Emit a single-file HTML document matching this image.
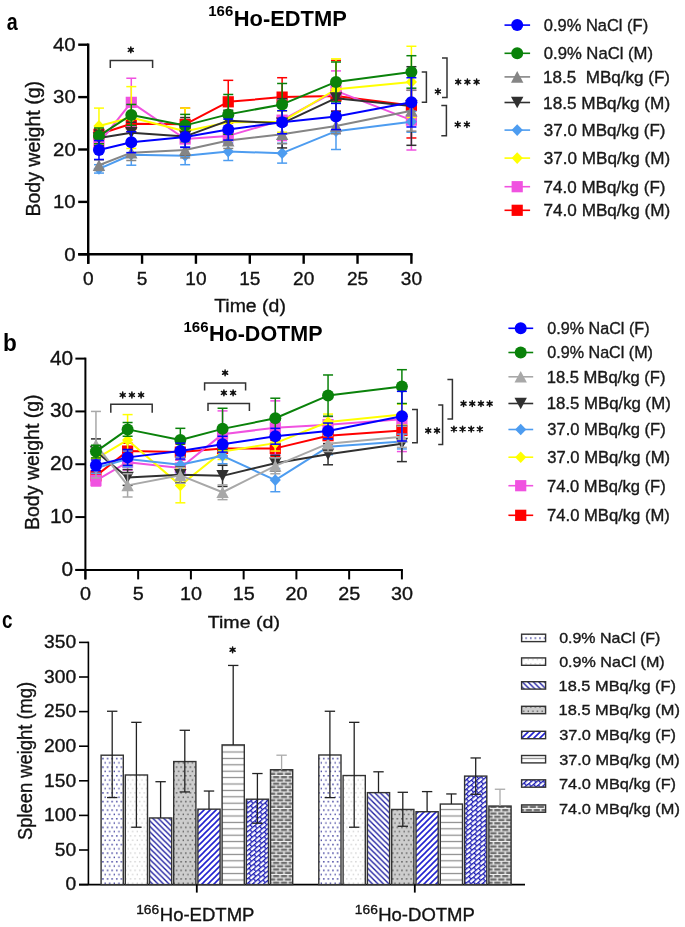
<!DOCTYPE html>
<html><head><meta charset="utf-8"><title>Body and spleen weight</title>
<style>html,body{margin:0;padding:0;background:#fff;}svg{display:block;will-change:transform;}text{font-family:"Liberation Sans", sans-serif;}text:not([font-weight]){stroke:#151515;stroke-width:0.35px;}</style>
</head><body>
<svg width="685" height="927" viewBox="0 0 685 927">
<rect width="685" height="927" fill="#fff"/>
<text transform="translate(7.3,29.5) scale(0.8091,1)" x="-0.73" y="0" font-size="24.372" fill="#000" font-weight="bold">a</text>
<text transform="translate(209.2,16.3) scale(0.9849,1)" x="-0.95" y="0" font-size="15.197" fill="#000" font-weight="bold">166</text>
<text transform="translate(235.2,25.5) scale(0.9839,1)" x="-1.5" y="0" font-size="22.255" fill="#000" font-weight="bold">Ho-EDTMP</text>
<line x1="88.2" y1="43.5" x2="88.2" y2="263.8" stroke="#000" stroke-width="2.4" />
<line x1="78.2" y1="254.3" x2="412.6" y2="254.3" stroke="#000" stroke-width="2.4" />
<line x1="78.2" y1="254.3" x2="88.2" y2="254.3" stroke="#000" stroke-width="2.4" />
<line x1="78.2" y1="201.9" x2="88.2" y2="201.9" stroke="#000" stroke-width="2.4" />
<line x1="78.2" y1="149.5" x2="88.2" y2="149.5" stroke="#000" stroke-width="2.4" />
<line x1="78.2" y1="97.1" x2="88.2" y2="97.1" stroke="#000" stroke-width="2.4" />
<line x1="78.2" y1="44.7" x2="88.2" y2="44.7" stroke="#000" stroke-width="2.4" />
<line x1="88.2" y1="254.3" x2="88.2" y2="263.8" stroke="#000" stroke-width="2.4" />
<line x1="142.07" y1="254.3" x2="142.07" y2="263.8" stroke="#000" stroke-width="2.4" />
<line x1="195.93" y1="254.3" x2="195.93" y2="263.8" stroke="#000" stroke-width="2.4" />
<line x1="249.8" y1="254.3" x2="249.8" y2="263.8" stroke="#000" stroke-width="2.4" />
<line x1="303.67" y1="254.3" x2="303.67" y2="263.8" stroke="#000" stroke-width="2.4" />
<line x1="357.53" y1="254.3" x2="357.53" y2="263.8" stroke="#000" stroke-width="2.4" />
<line x1="411.4" y1="254.3" x2="411.4" y2="263.8" stroke="#000" stroke-width="2.4" />
<text transform="translate(65.17,260.5) scale(1.0855,1)" x="-0.75" y="0" font-size="18.781" fill="#111">0</text>
<text transform="translate(54.56,208.1) scale(1.0855,1)" x="-1.41" y="0" font-size="18.781" fill="#111">10</text>
<text transform="translate(54.05,155.7) scale(1.0855,1)" x="-0.94" y="0" font-size="18.781" fill="#111">20</text>
<text transform="translate(53.8,103.3) scale(1.0855,1)" x="-0.7" y="0" font-size="18.781" fill="#111">30</text>
<text transform="translate(53.49,50.9) scale(1.0855,1)" x="-0.42" y="0" font-size="18.781" fill="#111">40</text>
<text transform="translate(83.65,284.8) scale(1.0256,1)" x="-0.74" y="0" font-size="18.618" fill="#111">0</text>
<text transform="translate(137.52,284.8) scale(1.0256,1)" x="-0.74" y="0" font-size="18.618" fill="#111">5</text>
<text transform="translate(186.75,284.8) scale(1.0256,1)" x="-1.4" y="0" font-size="18.618" fill="#111">10</text>
<text transform="translate(240.61,284.8) scale(1.0256,1)" x="-1.4" y="0" font-size="18.618" fill="#111">15</text>
<text transform="translate(294,284.8) scale(1.0256,1)" x="-0.93" y="0" font-size="18.618" fill="#111">20</text>
<text transform="translate(347.87,284.8) scale(1.0256,1)" x="-0.93" y="0" font-size="18.618" fill="#111">25</text>
<text transform="translate(401.5,284.8) scale(1.0256,1)" x="-0.7" y="0" font-size="18.618" fill="#111">30</text>
<text transform="translate(40.1,215) rotate(-90) scale(0.9598,1)" x="-1.68" y="0" font-size="20.364" fill="#111">Body weight (g)</text>
<text transform="translate(214.6,312.3) scale(1.0370,1)" x="-0.42" y="0" font-size="18.764" fill="#111">Time (d)</text>
<line x1="98.97" y1="129.06" x2="98.97" y2="139.54" stroke="#ff0000" stroke-width="1.5" />
<line x1="93.97" y1="129.06" x2="103.97" y2="129.06" stroke="#ff0000" stroke-width="1.5" />
<line x1="93.97" y1="139.54" x2="103.97" y2="139.54" stroke="#ff0000" stroke-width="1.5" />
<line x1="131.29" y1="115.96" x2="131.29" y2="131.68" stroke="#ff0000" stroke-width="1.5" />
<line x1="126.29" y1="115.96" x2="136.29" y2="115.96" stroke="#ff0000" stroke-width="1.5" />
<line x1="126.29" y1="131.68" x2="136.29" y2="131.68" stroke="#ff0000" stroke-width="1.5" />
<line x1="185.16" y1="108.1" x2="185.16" y2="140.59" stroke="#ff0000" stroke-width="1.5" />
<line x1="180.16" y1="108.1" x2="190.16" y2="108.1" stroke="#ff0000" stroke-width="1.5" />
<line x1="180.16" y1="140.59" x2="190.16" y2="140.59" stroke="#ff0000" stroke-width="1.5" />
<line x1="228.25" y1="80.33" x2="228.25" y2="123.3" stroke="#ff0000" stroke-width="1.5" />
<line x1="223.25" y1="80.33" x2="233.25" y2="80.33" stroke="#ff0000" stroke-width="1.5" />
<line x1="223.25" y1="123.3" x2="233.25" y2="123.3" stroke="#ff0000" stroke-width="1.5" />
<line x1="282.12" y1="77.71" x2="282.12" y2="116.49" stroke="#ff0000" stroke-width="1.5" />
<line x1="277.12" y1="77.71" x2="287.12" y2="77.71" stroke="#ff0000" stroke-width="1.5" />
<line x1="277.12" y1="116.49" x2="287.12" y2="116.49" stroke="#ff0000" stroke-width="1.5" />
<line x1="335.99" y1="60.42" x2="335.99" y2="131.68" stroke="#ff0000" stroke-width="1.5" />
<line x1="330.99" y1="60.42" x2="340.99" y2="60.42" stroke="#ff0000" stroke-width="1.5" />
<line x1="330.99" y1="131.68" x2="340.99" y2="131.68" stroke="#ff0000" stroke-width="1.5" />
<line x1="411.4" y1="73" x2="411.4" y2="137.97" stroke="#ff0000" stroke-width="1.5" />
<line x1="406.4" y1="73" x2="416.4" y2="73" stroke="#ff0000" stroke-width="1.5" />
<line x1="406.4" y1="137.97" x2="416.4" y2="137.97" stroke="#ff0000" stroke-width="1.5" />
<polyline points="98.97,134.3 131.29,123.82 185.16,124.35 228.25,101.82 282.12,97.1 335.99,96.05 411.4,105.48" fill="none" stroke="#ff0000" stroke-width="2" stroke-linejoin="round"/>
<rect x="93.37" y="128.7" width="11.2" height="11.2" fill="#ff0000"/>
<rect x="125.69" y="118.22" width="11.2" height="11.2" fill="#ff0000"/>
<rect x="179.56" y="118.75" width="11.2" height="11.2" fill="#ff0000"/>
<rect x="222.65" y="96.22" width="11.2" height="11.2" fill="#ff0000"/>
<rect x="276.52" y="91.5" width="11.2" height="11.2" fill="#ff0000"/>
<rect x="330.39" y="90.45" width="11.2" height="11.2" fill="#ff0000"/>
<rect x="405.8" y="99.88" width="11.2" height="11.2" fill="#ff0000"/>
<line x1="98.97" y1="137.97" x2="98.97" y2="148.45" stroke="#f052e0" stroke-width="1.5" />
<line x1="93.97" y1="137.97" x2="103.97" y2="137.97" stroke="#f052e0" stroke-width="1.5" />
<line x1="93.97" y1="148.45" x2="103.97" y2="148.45" stroke="#f052e0" stroke-width="1.5" />
<line x1="131.29" y1="78.24" x2="131.29" y2="126.44" stroke="#f052e0" stroke-width="1.5" />
<line x1="126.29" y1="78.24" x2="136.29" y2="78.24" stroke="#f052e0" stroke-width="1.5" />
<line x1="126.29" y1="126.44" x2="136.29" y2="126.44" stroke="#f052e0" stroke-width="1.5" />
<line x1="185.16" y1="131.16" x2="185.16" y2="146.88" stroke="#f052e0" stroke-width="1.5" />
<line x1="180.16" y1="131.16" x2="190.16" y2="131.16" stroke="#f052e0" stroke-width="1.5" />
<line x1="180.16" y1="146.88" x2="190.16" y2="146.88" stroke="#f052e0" stroke-width="1.5" />
<line x1="228.25" y1="128.02" x2="228.25" y2="143.74" stroke="#f052e0" stroke-width="1.5" />
<line x1="223.25" y1="128.02" x2="233.25" y2="128.02" stroke="#f052e0" stroke-width="1.5" />
<line x1="223.25" y1="143.74" x2="233.25" y2="143.74" stroke="#f052e0" stroke-width="1.5" />
<line x1="282.12" y1="99.72" x2="282.12" y2="140.59" stroke="#f052e0" stroke-width="1.5" />
<line x1="277.12" y1="99.72" x2="287.12" y2="99.72" stroke="#f052e0" stroke-width="1.5" />
<line x1="277.12" y1="140.59" x2="287.12" y2="140.59" stroke="#f052e0" stroke-width="1.5" />
<line x1="335.99" y1="70.9" x2="335.99" y2="110.72" stroke="#f052e0" stroke-width="1.5" />
<line x1="330.99" y1="70.9" x2="340.99" y2="70.9" stroke="#f052e0" stroke-width="1.5" />
<line x1="330.99" y1="110.72" x2="340.99" y2="110.72" stroke="#f052e0" stroke-width="1.5" />
<line x1="411.4" y1="90.29" x2="411.4" y2="150.02" stroke="#f052e0" stroke-width="1.5" />
<line x1="406.4" y1="90.29" x2="416.4" y2="90.29" stroke="#f052e0" stroke-width="1.5" />
<line x1="406.4" y1="150.02" x2="416.4" y2="150.02" stroke="#f052e0" stroke-width="1.5" />
<polyline points="98.97,143.21 131.29,102.34 185.16,139.02 228.25,135.88 282.12,120.16 335.99,90.81 411.4,120.16" fill="none" stroke="#f052e0" stroke-width="2" stroke-linejoin="round"/>
<rect x="93.37" y="137.61" width="11.2" height="11.2" fill="#f052e0"/>
<rect x="125.69" y="96.74" width="11.2" height="11.2" fill="#f052e0"/>
<rect x="179.56" y="133.42" width="11.2" height="11.2" fill="#f052e0"/>
<rect x="222.65" y="130.28" width="11.2" height="11.2" fill="#f052e0"/>
<rect x="276.52" y="114.56" width="11.2" height="11.2" fill="#f052e0"/>
<rect x="330.39" y="85.21" width="11.2" height="11.2" fill="#f052e0"/>
<rect x="405.8" y="114.56" width="11.2" height="11.2" fill="#f052e0"/>
<line x1="98.97" y1="108.1" x2="98.97" y2="143.74" stroke="#ffff00" stroke-width="1.5" />
<line x1="93.97" y1="108.1" x2="103.97" y2="108.1" stroke="#ffff00" stroke-width="1.5" />
<line x1="93.97" y1="143.74" x2="103.97" y2="143.74" stroke="#ffff00" stroke-width="1.5" />
<line x1="131.29" y1="86.62" x2="131.29" y2="148.45" stroke="#ffff00" stroke-width="1.5" />
<line x1="126.29" y1="86.62" x2="136.29" y2="86.62" stroke="#ffff00" stroke-width="1.5" />
<line x1="126.29" y1="148.45" x2="136.29" y2="148.45" stroke="#ffff00" stroke-width="1.5" />
<line x1="185.16" y1="108.1" x2="185.16" y2="154.22" stroke="#ffff00" stroke-width="1.5" />
<line x1="180.16" y1="108.1" x2="190.16" y2="108.1" stroke="#ffff00" stroke-width="1.5" />
<line x1="180.16" y1="154.22" x2="190.16" y2="154.22" stroke="#ffff00" stroke-width="1.5" />
<line x1="228.25" y1="111.77" x2="228.25" y2="132.73" stroke="#ffff00" stroke-width="1.5" />
<line x1="223.25" y1="111.77" x2="233.25" y2="111.77" stroke="#ffff00" stroke-width="1.5" />
<line x1="223.25" y1="132.73" x2="233.25" y2="132.73" stroke="#ffff00" stroke-width="1.5" />
<line x1="282.12" y1="111.25" x2="282.12" y2="132.21" stroke="#ffff00" stroke-width="1.5" />
<line x1="277.12" y1="111.25" x2="287.12" y2="111.25" stroke="#ffff00" stroke-width="1.5" />
<line x1="277.12" y1="132.21" x2="287.12" y2="132.21" stroke="#ffff00" stroke-width="1.5" />
<line x1="335.99" y1="58.85" x2="335.99" y2="119.63" stroke="#ffff00" stroke-width="1.5" />
<line x1="330.99" y1="58.85" x2="340.99" y2="58.85" stroke="#ffff00" stroke-width="1.5" />
<line x1="330.99" y1="119.63" x2="340.99" y2="119.63" stroke="#ffff00" stroke-width="1.5" />
<line x1="411.4" y1="46.27" x2="411.4" y2="117.54" stroke="#ffff00" stroke-width="1.5" />
<line x1="406.4" y1="46.27" x2="416.4" y2="46.27" stroke="#ffff00" stroke-width="1.5" />
<line x1="406.4" y1="117.54" x2="416.4" y2="117.54" stroke="#ffff00" stroke-width="1.5" />
<polyline points="98.97,125.92 131.29,117.54 185.16,131.16 228.25,122.25 282.12,121.73 335.99,89.24 411.4,81.9" fill="none" stroke="#ffff00" stroke-width="2" stroke-linejoin="round"/>
<polygon points="98.97,120.12 104.57,125.92 98.97,131.72 93.37,125.92" fill="#ffff00"/>
<polygon points="131.29,111.74 136.89,117.54 131.29,123.34 125.69,117.54" fill="#ffff00"/>
<polygon points="185.16,125.36 190.76,131.16 185.16,136.96 179.56,131.16" fill="#ffff00"/>
<polygon points="228.25,116.45 233.85,122.25 228.25,128.05 222.65,122.25" fill="#ffff00"/>
<polygon points="282.12,115.93 287.72,121.73 282.12,127.53 276.52,121.73" fill="#ffff00"/>
<polygon points="335.99,83.44 341.59,89.24 335.99,95.04 330.39,89.24" fill="#ffff00"/>
<polygon points="411.4,76.1 417,81.9 411.4,87.7 405.8,81.9" fill="#ffff00"/>
<line x1="98.97" y1="164.7" x2="98.97" y2="173.08" stroke="#4d9cf0" stroke-width="1.5" />
<line x1="93.97" y1="164.7" x2="103.97" y2="164.7" stroke="#4d9cf0" stroke-width="1.5" />
<line x1="93.97" y1="173.08" x2="103.97" y2="173.08" stroke="#4d9cf0" stroke-width="1.5" />
<line x1="131.29" y1="144.26" x2="131.29" y2="165.22" stroke="#4d9cf0" stroke-width="1.5" />
<line x1="126.29" y1="144.26" x2="136.29" y2="144.26" stroke="#4d9cf0" stroke-width="1.5" />
<line x1="126.29" y1="165.22" x2="136.29" y2="165.22" stroke="#4d9cf0" stroke-width="1.5" />
<line x1="185.16" y1="146.88" x2="185.16" y2="164.7" stroke="#4d9cf0" stroke-width="1.5" />
<line x1="180.16" y1="146.88" x2="190.16" y2="146.88" stroke="#4d9cf0" stroke-width="1.5" />
<line x1="180.16" y1="164.7" x2="190.16" y2="164.7" stroke="#4d9cf0" stroke-width="1.5" />
<line x1="228.25" y1="142.69" x2="228.25" y2="160.5" stroke="#4d9cf0" stroke-width="1.5" />
<line x1="223.25" y1="142.69" x2="233.25" y2="142.69" stroke="#4d9cf0" stroke-width="1.5" />
<line x1="223.25" y1="160.5" x2="233.25" y2="160.5" stroke="#4d9cf0" stroke-width="1.5" />
<line x1="282.12" y1="143.21" x2="282.12" y2="163.12" stroke="#4d9cf0" stroke-width="1.5" />
<line x1="277.12" y1="143.21" x2="287.12" y2="143.21" stroke="#4d9cf0" stroke-width="1.5" />
<line x1="277.12" y1="163.12" x2="287.12" y2="163.12" stroke="#4d9cf0" stroke-width="1.5" />
<line x1="335.99" y1="112.82" x2="335.99" y2="149.5" stroke="#4d9cf0" stroke-width="1.5" />
<line x1="330.99" y1="112.82" x2="340.99" y2="112.82" stroke="#4d9cf0" stroke-width="1.5" />
<line x1="330.99" y1="149.5" x2="340.99" y2="149.5" stroke="#4d9cf0" stroke-width="1.5" />
<line x1="411.4" y1="111.25" x2="411.4" y2="132.21" stroke="#4d9cf0" stroke-width="1.5" />
<line x1="406.4" y1="111.25" x2="416.4" y2="111.25" stroke="#4d9cf0" stroke-width="1.5" />
<line x1="406.4" y1="132.21" x2="416.4" y2="132.21" stroke="#4d9cf0" stroke-width="1.5" />
<polyline points="98.97,168.89 131.29,154.74 185.16,155.79 228.25,151.6 282.12,153.17 335.99,131.16 411.4,121.73" fill="none" stroke="#4d9cf0" stroke-width="2" stroke-linejoin="round"/>
<polygon points="98.97,163.09 104.57,168.89 98.97,174.69 93.37,168.89" fill="#4d9cf0"/>
<polygon points="131.29,148.94 136.89,154.74 131.29,160.54 125.69,154.74" fill="#4d9cf0"/>
<polygon points="185.16,149.99 190.76,155.79 185.16,161.59 179.56,155.79" fill="#4d9cf0"/>
<polygon points="228.25,145.8 233.85,151.6 228.25,157.4 222.65,151.6" fill="#4d9cf0"/>
<polygon points="282.12,147.37 287.72,153.17 282.12,158.97 276.52,153.17" fill="#4d9cf0"/>
<polygon points="335.99,125.36 341.59,131.16 335.99,136.96 330.39,131.16" fill="#4d9cf0"/>
<polygon points="411.4,115.93 417,121.73 411.4,127.53 405.8,121.73" fill="#4d9cf0"/>
<line x1="98.97" y1="130.11" x2="98.97" y2="145.83" stroke="#303030" stroke-width="1.5" />
<line x1="93.97" y1="130.11" x2="103.97" y2="130.11" stroke="#303030" stroke-width="1.5" />
<line x1="93.97" y1="145.83" x2="103.97" y2="145.83" stroke="#303030" stroke-width="1.5" />
<line x1="131.29" y1="122.25" x2="131.29" y2="143.21" stroke="#303030" stroke-width="1.5" />
<line x1="126.29" y1="122.25" x2="136.29" y2="122.25" stroke="#303030" stroke-width="1.5" />
<line x1="126.29" y1="143.21" x2="136.29" y2="143.21" stroke="#303030" stroke-width="1.5" />
<line x1="185.16" y1="117.54" x2="185.16" y2="155.26" stroke="#303030" stroke-width="1.5" />
<line x1="180.16" y1="117.54" x2="190.16" y2="117.54" stroke="#303030" stroke-width="1.5" />
<line x1="180.16" y1="155.26" x2="190.16" y2="155.26" stroke="#303030" stroke-width="1.5" />
<line x1="228.25" y1="110.2" x2="228.25" y2="131.16" stroke="#303030" stroke-width="1.5" />
<line x1="223.25" y1="110.2" x2="233.25" y2="110.2" stroke="#303030" stroke-width="1.5" />
<line x1="223.25" y1="131.16" x2="233.25" y2="131.16" stroke="#303030" stroke-width="1.5" />
<line x1="282.12" y1="98.67" x2="282.12" y2="147.93" stroke="#303030" stroke-width="1.5" />
<line x1="277.12" y1="98.67" x2="287.12" y2="98.67" stroke="#303030" stroke-width="1.5" />
<line x1="277.12" y1="147.93" x2="287.12" y2="147.93" stroke="#303030" stroke-width="1.5" />
<line x1="335.99" y1="85.05" x2="335.99" y2="111.25" stroke="#303030" stroke-width="1.5" />
<line x1="330.99" y1="85.05" x2="340.99" y2="85.05" stroke="#303030" stroke-width="1.5" />
<line x1="330.99" y1="111.25" x2="340.99" y2="111.25" stroke="#303030" stroke-width="1.5" />
<line x1="411.4" y1="66.71" x2="411.4" y2="145.31" stroke="#303030" stroke-width="1.5" />
<line x1="406.4" y1="66.71" x2="416.4" y2="66.71" stroke="#303030" stroke-width="1.5" />
<line x1="406.4" y1="145.31" x2="416.4" y2="145.31" stroke="#303030" stroke-width="1.5" />
<polyline points="98.97,137.97 131.29,132.73 185.16,136.4 228.25,120.68 282.12,123.3 335.99,98.15 411.4,106.01" fill="none" stroke="#303030" stroke-width="2" stroke-linejoin="round"/>
<polygon points="92.77,132.17 105.17,132.17 98.97,143.77" fill="#303030"/>
<polygon points="125.09,126.93 137.49,126.93 131.29,138.53" fill="#303030"/>
<polygon points="178.96,130.6 191.36,130.6 185.16,142.2" fill="#303030"/>
<polygon points="222.05,114.88 234.45,114.88 228.25,126.48" fill="#303030"/>
<polygon points="275.92,117.5 288.32,117.5 282.12,129.1" fill="#303030"/>
<polygon points="329.79,92.35 342.19,92.35 335.99,103.95" fill="#303030"/>
<polygon points="405.2,100.21 417.6,100.21 411.4,111.81" fill="#303030"/>
<line x1="98.97" y1="159.98" x2="98.97" y2="170.46" stroke="#858585" stroke-width="1.5" />
<line x1="93.97" y1="159.98" x2="103.97" y2="159.98" stroke="#858585" stroke-width="1.5" />
<line x1="93.97" y1="170.46" x2="103.97" y2="170.46" stroke="#858585" stroke-width="1.5" />
<line x1="131.29" y1="144.78" x2="131.29" y2="160.5" stroke="#858585" stroke-width="1.5" />
<line x1="126.29" y1="144.78" x2="136.29" y2="144.78" stroke="#858585" stroke-width="1.5" />
<line x1="126.29" y1="160.5" x2="136.29" y2="160.5" stroke="#858585" stroke-width="1.5" />
<line x1="185.16" y1="142.16" x2="185.16" y2="157.88" stroke="#858585" stroke-width="1.5" />
<line x1="180.16" y1="142.16" x2="190.16" y2="142.16" stroke="#858585" stroke-width="1.5" />
<line x1="180.16" y1="157.88" x2="190.16" y2="157.88" stroke="#858585" stroke-width="1.5" />
<line x1="228.25" y1="132.73" x2="228.25" y2="148.45" stroke="#858585" stroke-width="1.5" />
<line x1="223.25" y1="132.73" x2="233.25" y2="132.73" stroke="#858585" stroke-width="1.5" />
<line x1="223.25" y1="148.45" x2="233.25" y2="148.45" stroke="#858585" stroke-width="1.5" />
<line x1="282.12" y1="124.87" x2="282.12" y2="143.74" stroke="#858585" stroke-width="1.5" />
<line x1="277.12" y1="124.87" x2="287.12" y2="124.87" stroke="#858585" stroke-width="1.5" />
<line x1="277.12" y1="143.74" x2="287.12" y2="143.74" stroke="#858585" stroke-width="1.5" />
<line x1="335.99" y1="118.06" x2="335.99" y2="133.78" stroke="#858585" stroke-width="1.5" />
<line x1="330.99" y1="118.06" x2="340.99" y2="118.06" stroke="#858585" stroke-width="1.5" />
<line x1="330.99" y1="133.78" x2="340.99" y2="133.78" stroke="#858585" stroke-width="1.5" />
<line x1="411.4" y1="90.29" x2="411.4" y2="131.16" stroke="#858585" stroke-width="1.5" />
<line x1="406.4" y1="90.29" x2="416.4" y2="90.29" stroke="#858585" stroke-width="1.5" />
<line x1="406.4" y1="131.16" x2="416.4" y2="131.16" stroke="#858585" stroke-width="1.5" />
<polyline points="98.97,165.22 131.29,152.64 185.16,150.02 228.25,140.59 282.12,134.3 335.99,125.92 411.4,110.72" fill="none" stroke="#858585" stroke-width="2" stroke-linejoin="round"/>
<polygon points="98.97,159.42 105.17,171.02 92.77,171.02" fill="#858585"/>
<polygon points="131.29,146.84 137.49,158.44 125.09,158.44" fill="#858585"/>
<polygon points="185.16,144.22 191.36,155.82 178.96,155.82" fill="#858585"/>
<polygon points="228.25,134.79 234.45,146.39 222.05,146.39" fill="#858585"/>
<polygon points="282.12,128.5 288.32,140.1 275.92,140.1" fill="#858585"/>
<polygon points="335.99,120.12 342.19,131.72 329.79,131.72" fill="#858585"/>
<polygon points="411.4,104.92 417.6,116.52 405.2,116.52" fill="#858585"/>
<line x1="98.97" y1="128.02" x2="98.97" y2="143.74" stroke="#0a820a" stroke-width="1.5" />
<line x1="93.97" y1="128.02" x2="103.97" y2="128.02" stroke="#0a820a" stroke-width="1.5" />
<line x1="93.97" y1="143.74" x2="103.97" y2="143.74" stroke="#0a820a" stroke-width="1.5" />
<line x1="131.29" y1="104.44" x2="131.29" y2="125.4" stroke="#0a820a" stroke-width="1.5" />
<line x1="126.29" y1="104.44" x2="136.29" y2="104.44" stroke="#0a820a" stroke-width="1.5" />
<line x1="126.29" y1="125.4" x2="136.29" y2="125.4" stroke="#0a820a" stroke-width="1.5" />
<line x1="185.16" y1="114.39" x2="185.16" y2="136.4" stroke="#0a820a" stroke-width="1.5" />
<line x1="180.16" y1="114.39" x2="190.16" y2="114.39" stroke="#0a820a" stroke-width="1.5" />
<line x1="180.16" y1="136.4" x2="190.16" y2="136.4" stroke="#0a820a" stroke-width="1.5" />
<line x1="228.25" y1="94.48" x2="228.25" y2="134.3" stroke="#0a820a" stroke-width="1.5" />
<line x1="223.25" y1="94.48" x2="233.25" y2="94.48" stroke="#0a820a" stroke-width="1.5" />
<line x1="223.25" y1="134.3" x2="233.25" y2="134.3" stroke="#0a820a" stroke-width="1.5" />
<line x1="282.12" y1="83.48" x2="282.12" y2="125.4" stroke="#0a820a" stroke-width="1.5" />
<line x1="277.12" y1="83.48" x2="287.12" y2="83.48" stroke="#0a820a" stroke-width="1.5" />
<line x1="277.12" y1="125.4" x2="287.12" y2="125.4" stroke="#0a820a" stroke-width="1.5" />
<line x1="335.99" y1="61.99" x2="335.99" y2="101.82" stroke="#0a820a" stroke-width="1.5" />
<line x1="330.99" y1="61.99" x2="340.99" y2="61.99" stroke="#0a820a" stroke-width="1.5" />
<line x1="330.99" y1="101.82" x2="340.99" y2="101.82" stroke="#0a820a" stroke-width="1.5" />
<line x1="411.4" y1="55.7" x2="411.4" y2="88.19" stroke="#0a820a" stroke-width="1.5" />
<line x1="406.4" y1="55.7" x2="416.4" y2="55.7" stroke="#0a820a" stroke-width="1.5" />
<line x1="406.4" y1="88.19" x2="416.4" y2="88.19" stroke="#0a820a" stroke-width="1.5" />
<polyline points="98.97,135.88 131.29,114.92 185.16,125.4 228.25,114.39 282.12,104.44 335.99,81.9 411.4,71.95" fill="none" stroke="#0a820a" stroke-width="2" stroke-linejoin="round"/>
<circle cx="98.97" cy="135.88" r="6" fill="#0a820a"/>
<circle cx="131.29" cy="114.92" r="6" fill="#0a820a"/>
<circle cx="185.16" cy="125.4" r="6" fill="#0a820a"/>
<circle cx="228.25" cy="114.39" r="6" fill="#0a820a"/>
<circle cx="282.12" cy="104.44" r="6" fill="#0a820a"/>
<circle cx="335.99" cy="81.9" r="6" fill="#0a820a"/>
<circle cx="411.4" cy="71.95" r="6" fill="#0a820a"/>
<line x1="98.97" y1="140.59" x2="98.97" y2="159.46" stroke="#0000ff" stroke-width="1.5" />
<line x1="93.97" y1="140.59" x2="103.97" y2="140.59" stroke="#0000ff" stroke-width="1.5" />
<line x1="93.97" y1="159.46" x2="103.97" y2="159.46" stroke="#0000ff" stroke-width="1.5" />
<line x1="131.29" y1="131.68" x2="131.29" y2="152.64" stroke="#0000ff" stroke-width="1.5" />
<line x1="126.29" y1="131.68" x2="136.29" y2="131.68" stroke="#0000ff" stroke-width="1.5" />
<line x1="126.29" y1="152.64" x2="136.29" y2="152.64" stroke="#0000ff" stroke-width="1.5" />
<line x1="185.16" y1="126.44" x2="185.16" y2="147.4" stroke="#0000ff" stroke-width="1.5" />
<line x1="180.16" y1="126.44" x2="190.16" y2="126.44" stroke="#0000ff" stroke-width="1.5" />
<line x1="180.16" y1="147.4" x2="190.16" y2="147.4" stroke="#0000ff" stroke-width="1.5" />
<line x1="228.25" y1="119.11" x2="228.25" y2="140.07" stroke="#0000ff" stroke-width="1.5" />
<line x1="223.25" y1="119.11" x2="233.25" y2="119.11" stroke="#0000ff" stroke-width="1.5" />
<line x1="223.25" y1="140.07" x2="233.25" y2="140.07" stroke="#0000ff" stroke-width="1.5" />
<line x1="282.12" y1="110.72" x2="282.12" y2="133.78" stroke="#0000ff" stroke-width="1.5" />
<line x1="277.12" y1="110.72" x2="287.12" y2="110.72" stroke="#0000ff" stroke-width="1.5" />
<line x1="277.12" y1="133.78" x2="287.12" y2="133.78" stroke="#0000ff" stroke-width="1.5" />
<line x1="335.99" y1="103.39" x2="335.99" y2="129.59" stroke="#0000ff" stroke-width="1.5" />
<line x1="330.99" y1="103.39" x2="340.99" y2="103.39" stroke="#0000ff" stroke-width="1.5" />
<line x1="330.99" y1="129.59" x2="340.99" y2="129.59" stroke="#0000ff" stroke-width="1.5" />
<line x1="411.4" y1="77.71" x2="411.4" y2="126.97" stroke="#0000ff" stroke-width="1.5" />
<line x1="406.4" y1="77.71" x2="416.4" y2="77.71" stroke="#0000ff" stroke-width="1.5" />
<line x1="406.4" y1="126.97" x2="416.4" y2="126.97" stroke="#0000ff" stroke-width="1.5" />
<polyline points="98.97,150.02 131.29,142.16 185.16,136.92 228.25,129.59 282.12,122.25 335.99,116.49 411.4,102.34" fill="none" stroke="#0000ff" stroke-width="2" stroke-linejoin="round"/>
<circle cx="98.97" cy="150.02" r="6" fill="#0000ff"/>
<circle cx="131.29" cy="142.16" r="6" fill="#0000ff"/>
<circle cx="185.16" cy="136.92" r="6" fill="#0000ff"/>
<circle cx="228.25" cy="129.59" r="6" fill="#0000ff"/>
<circle cx="282.12" cy="122.25" r="6" fill="#0000ff"/>
<circle cx="335.99" cy="116.49" r="6" fill="#0000ff"/>
<circle cx="411.4" cy="102.34" r="6" fill="#0000ff"/>
<polyline points="110.3,68.1 110.3,60.4 152.6,60.4 152.6,68.1" fill="none" stroke="#333" stroke-width="1.5"/>
<path d="M130.8,47L130.8,52.8M128.29,48.45L133.31,51.35M128.29,51.35L133.31,48.45" stroke="#111" stroke-width="1.5" stroke-linecap="round" fill="none"/>
<circle cx="130.8" cy="49.9" r="1.5" fill="#111"/>
<polyline points="421.7,71.9 426.4,71.9 426.4,102.3 421.7,102.3" fill="none" stroke="#333" stroke-width="1.5"/>
<path d="M437.9,88.6L437.9,94.4M435.39,90.05L440.41,92.95M435.39,92.95L440.41,90.05" stroke="#111" stroke-width="1.5" stroke-linecap="round" fill="none"/>
<circle cx="437.9" cy="91.5" r="1.5" fill="#111"/>
<polyline points="442,57.9 447,57.9 447,97.4 442,97.4" fill="none" stroke="#333" stroke-width="1.5"/>
<path d="M458.2,79L458.2,84.8M455.69,80.45L460.71,83.35M455.69,83.35L460.71,80.45" stroke="#111" stroke-width="1.5" stroke-linecap="round" fill="none"/>
<circle cx="458.2" cy="81.9" r="1.5" fill="#111"/>
<path d="M467.4,79L467.4,84.8M464.89,80.45L469.91,83.35M464.89,83.35L469.91,80.45" stroke="#111" stroke-width="1.5" stroke-linecap="round" fill="none"/>
<circle cx="467.4" cy="81.9" r="1.5" fill="#111"/>
<path d="M476.6,79L476.6,84.8M474.09,80.45L479.11,83.35M474.09,83.35L479.11,80.45" stroke="#111" stroke-width="1.5" stroke-linecap="round" fill="none"/>
<circle cx="476.6" cy="81.9" r="1.5" fill="#111"/>
<polyline points="441.3,105.5 446.4,105.5 446.4,135.8 441.3,135.8" fill="none" stroke="#333" stroke-width="1.5"/>
<path d="M457.7,121.6L457.7,127.4M455.19,123.05L460.21,125.95M455.19,125.95L460.21,123.05" stroke="#111" stroke-width="1.5" stroke-linecap="round" fill="none"/>
<circle cx="457.7" cy="124.5" r="1.5" fill="#111"/>
<path d="M466.9,121.6L466.9,127.4M464.39,123.05L469.41,125.95M464.39,125.95L469.41,123.05" stroke="#111" stroke-width="1.5" stroke-linecap="round" fill="none"/>
<circle cx="466.9" cy="124.5" r="1.5" fill="#111"/>
<line x1="504.5" y1="25.1" x2="530.1" y2="25.1" stroke="#0000ff" stroke-width="1.6" />
<circle cx="517.2" cy="25.1" r="6" fill="#0000ff"/>
<text transform="translate(544.4,31.1) scale(1.0088,1)" x="-0.65" y="0" font-size="16.344" fill="#1a1a1a">0.9% NaCl (F)</text>
<line x1="504.5" y1="53.3" x2="530.1" y2="53.3" stroke="#0a820a" stroke-width="1.6" />
<circle cx="517.2" cy="53.3" r="6" fill="#0a820a"/>
<text transform="translate(544.4,59.3) scale(1.0204,1)" x="-0.65" y="0" font-size="16.344" fill="#1a1a1a">0.9% NaCl (M)</text>
<line x1="504.5" y1="76.9" x2="530.1" y2="76.9" stroke="#858585" stroke-width="1.6" />
<polygon points="517.2,71.1 523.4,82.7 511,82.7" fill="#858585"/>
<text transform="translate(544.4,82.9) scale(1.0434,1)" x="-1.23" y="0" font-size="16.344" fill="#1a1a1a">18.5&#160;&#160;MBq/kg (F)</text>
<line x1="504.5" y1="102.5" x2="530.1" y2="102.5" stroke="#303030" stroke-width="1.6" />
<polygon points="511,96.7 523.4,96.7 517.2,108.3" fill="#303030"/>
<text transform="translate(544.4,108.5) scale(1.0516,1)" x="-1.23" y="0" font-size="16.344" fill="#1a1a1a">18.5 MBq/kg (M)</text>
<line x1="504.5" y1="130.1" x2="530.1" y2="130.1" stroke="#4d9cf0" stroke-width="1.6" />
<polygon points="517.2,124.3 522.8,130.1 517.2,135.9 511.6,130.1" fill="#4d9cf0"/>
<text transform="translate(544.4,136.1) scale(1.0394,1)" x="-0.61" y="0" font-size="16.344" fill="#1a1a1a">37.0 MBq/kg (F)</text>
<line x1="504.5" y1="158.1" x2="530.1" y2="158.1" stroke="#ffff00" stroke-width="1.6" />
<polygon points="517.2,152.3 522.8,158.1 517.2,163.9 511.6,158.1" fill="#ffff00"/>
<text transform="translate(544.4,164.1) scale(1.0462,1)" x="-0.61" y="0" font-size="16.344" fill="#1a1a1a">37.0 MBq/kg (M)</text>
<line x1="504.5" y1="186.7" x2="530.1" y2="186.7" stroke="#f052e0" stroke-width="1.6" />
<rect x="511.6" y="181.1" width="11.2" height="11.2" fill="#f052e0"/>
<text transform="translate(544.4,192.7) scale(1.0412,1)" x="-0.82" y="0" font-size="16.344" fill="#1a1a1a">74.0 MBq/kg (F)</text>
<line x1="504.5" y1="210.3" x2="530.1" y2="210.3" stroke="#ff0000" stroke-width="1.6" />
<rect x="511.6" y="204.7" width="11.2" height="11.2" fill="#ff0000"/>
<text transform="translate(544.4,216.3) scale(1.0480,1)" x="-0.82" y="0" font-size="16.344" fill="#1a1a1a">74.0 MBq/kg (M)</text>
<text transform="translate(4.4,351.2) scale(0.9800,1)" x="-1.5" y="0" font-size="23.034" fill="#000" font-weight="bold">b</text>
<text transform="translate(184.4,332.1) scale(0.9985,1)" x="-0.94" y="0" font-size="15.054" fill="#000" font-weight="bold">166</text>
<text transform="translate(210.5,340.9) scale(0.9991,1)" x="-1.45" y="0" font-size="21.527" fill="#000" font-weight="bold">Ho-DOTMP</text>
<line x1="85.4" y1="357.6" x2="85.4" y2="579.4" stroke="#000" stroke-width="2" />
<line x1="75.4" y1="569.9" x2="402.9" y2="569.9" stroke="#000" stroke-width="2" />
<line x1="75.4" y1="569.9" x2="85.4" y2="569.9" stroke="#000" stroke-width="2" />
<line x1="75.4" y1="517.08" x2="85.4" y2="517.08" stroke="#000" stroke-width="2" />
<line x1="75.4" y1="464.25" x2="85.4" y2="464.25" stroke="#000" stroke-width="2" />
<line x1="75.4" y1="411.43" x2="85.4" y2="411.43" stroke="#000" stroke-width="2" />
<line x1="75.4" y1="358.6" x2="85.4" y2="358.6" stroke="#000" stroke-width="2" />
<line x1="85.4" y1="569.9" x2="85.4" y2="579.4" stroke="#000" stroke-width="2" />
<line x1="138.15" y1="569.9" x2="138.15" y2="579.4" stroke="#000" stroke-width="2" />
<line x1="190.9" y1="569.9" x2="190.9" y2="579.4" stroke="#000" stroke-width="2" />
<line x1="243.65" y1="569.9" x2="243.65" y2="579.4" stroke="#000" stroke-width="2" />
<line x1="296.4" y1="569.9" x2="296.4" y2="579.4" stroke="#000" stroke-width="2" />
<line x1="349.15" y1="569.9" x2="349.15" y2="579.4" stroke="#000" stroke-width="2" />
<line x1="401.9" y1="569.9" x2="401.9" y2="579.4" stroke="#000" stroke-width="2" />
<text transform="translate(62.34,575.81) scale(1.0245,1)" x="-0.81" y="0" font-size="20.358" fill="#111">0</text>
<text transform="translate(51.49,522.98) scale(1.0245,1)" x="-1.53" y="0" font-size="20.358" fill="#111">10</text>
<text transform="translate(50.97,470.16) scale(1.0245,1)" x="-1.02" y="0" font-size="20.358" fill="#111">20</text>
<text transform="translate(50.71,417.33) scale(1.0245,1)" x="-0.76" y="0" font-size="20.358" fill="#111">30</text>
<text transform="translate(50.4,364.51) scale(1.0245,1)" x="-0.46" y="0" font-size="20.358" fill="#111">40</text>
<text transform="translate(80.69,599.9) scale(1.0718,1)" x="-0.74" y="0" font-size="18.473" fill="#111">0</text>
<text transform="translate(133.44,599.9) scale(1.0718,1)" x="-0.74" y="0" font-size="18.473" fill="#111">5</text>
<text transform="translate(181.37,599.9) scale(1.0718,1)" x="-1.39" y="0" font-size="18.473" fill="#111">10</text>
<text transform="translate(234.12,599.9) scale(1.0718,1)" x="-1.39" y="0" font-size="18.473" fill="#111">15</text>
<text transform="translate(286.38,599.9) scale(1.0718,1)" x="-0.92" y="0" font-size="18.473" fill="#111">20</text>
<text transform="translate(339.13,599.9) scale(1.0718,1)" x="-0.92" y="0" font-size="18.473" fill="#111">25</text>
<text transform="translate(391.63,599.9) scale(1.0718,1)" x="-0.69" y="0" font-size="18.473" fill="#111">30</text>
<text transform="translate(39.3,528.4) rotate(-90) scale(0.9793,1)" x="-1.64" y="0" font-size="19.927" fill="#111">Body weight (g)</text>
<text transform="translate(208.2,628.2) scale(1.1418,1)" x="-0.39" y="0" font-size="17.164" fill="#111">Time (d)</text>
<line x1="95.95" y1="470.59" x2="95.95" y2="481.15" stroke="#ff0000" stroke-width="1.5" />
<line x1="90.95" y1="470.59" x2="100.95" y2="470.59" stroke="#ff0000" stroke-width="1.5" />
<line x1="90.95" y1="481.15" x2="100.95" y2="481.15" stroke="#ff0000" stroke-width="1.5" />
<line x1="127.6" y1="443.12" x2="127.6" y2="458.97" stroke="#ff0000" stroke-width="1.5" />
<line x1="122.6" y1="443.12" x2="132.6" y2="443.12" stroke="#ff0000" stroke-width="1.5" />
<line x1="122.6" y1="458.97" x2="132.6" y2="458.97" stroke="#ff0000" stroke-width="1.5" />
<line x1="180.35" y1="444.18" x2="180.35" y2="460.02" stroke="#ff0000" stroke-width="1.5" />
<line x1="175.35" y1="444.18" x2="185.35" y2="444.18" stroke="#ff0000" stroke-width="1.5" />
<line x1="175.35" y1="460.02" x2="185.35" y2="460.02" stroke="#ff0000" stroke-width="1.5" />
<line x1="222.55" y1="440.48" x2="222.55" y2="456.33" stroke="#ff0000" stroke-width="1.5" />
<line x1="217.55" y1="440.48" x2="227.55" y2="440.48" stroke="#ff0000" stroke-width="1.5" />
<line x1="217.55" y1="456.33" x2="227.55" y2="456.33" stroke="#ff0000" stroke-width="1.5" />
<line x1="275.3" y1="440.48" x2="275.3" y2="456.33" stroke="#ff0000" stroke-width="1.5" />
<line x1="270.3" y1="440.48" x2="280.3" y2="440.48" stroke="#ff0000" stroke-width="1.5" />
<line x1="270.3" y1="456.33" x2="280.3" y2="456.33" stroke="#ff0000" stroke-width="1.5" />
<line x1="328.05" y1="427.8" x2="328.05" y2="443.65" stroke="#ff0000" stroke-width="1.5" />
<line x1="323.05" y1="427.8" x2="333.05" y2="427.8" stroke="#ff0000" stroke-width="1.5" />
<line x1="323.05" y1="443.65" x2="333.05" y2="443.65" stroke="#ff0000" stroke-width="1.5" />
<line x1="401.9" y1="419.88" x2="401.9" y2="441.01" stroke="#ff0000" stroke-width="1.5" />
<line x1="396.9" y1="419.88" x2="406.9" y2="419.88" stroke="#ff0000" stroke-width="1.5" />
<line x1="396.9" y1="441.01" x2="406.9" y2="441.01" stroke="#ff0000" stroke-width="1.5" />
<polyline points="95.95,475.87 127.6,451.04 180.35,452.1 222.55,448.4 275.3,448.4 328.05,435.72 401.9,430.44" fill="none" stroke="#ff0000" stroke-width="2" stroke-linejoin="round"/>
<rect x="90.35" y="470.27" width="11.2" height="11.2" fill="#ff0000"/>
<rect x="122" y="445.44" width="11.2" height="11.2" fill="#ff0000"/>
<rect x="174.75" y="446.5" width="11.2" height="11.2" fill="#ff0000"/>
<rect x="216.95" y="442.8" width="11.2" height="11.2" fill="#ff0000"/>
<rect x="269.7" y="442.8" width="11.2" height="11.2" fill="#ff0000"/>
<rect x="322.45" y="430.12" width="11.2" height="11.2" fill="#ff0000"/>
<rect x="396.3" y="424.84" width="11.2" height="11.2" fill="#ff0000"/>
<line x1="95.95" y1="475.34" x2="95.95" y2="485.91" stroke="#f052e0" stroke-width="1.5" />
<line x1="90.95" y1="475.34" x2="100.95" y2="475.34" stroke="#f052e0" stroke-width="1.5" />
<line x1="90.95" y1="485.91" x2="100.95" y2="485.91" stroke="#f052e0" stroke-width="1.5" />
<line x1="127.6" y1="454.21" x2="127.6" y2="470.06" stroke="#f052e0" stroke-width="1.5" />
<line x1="122.6" y1="454.21" x2="132.6" y2="454.21" stroke="#f052e0" stroke-width="1.5" />
<line x1="122.6" y1="470.06" x2="132.6" y2="470.06" stroke="#f052e0" stroke-width="1.5" />
<line x1="180.35" y1="460.02" x2="180.35" y2="475.87" stroke="#f052e0" stroke-width="1.5" />
<line x1="175.35" y1="460.02" x2="185.35" y2="460.02" stroke="#f052e0" stroke-width="1.5" />
<line x1="175.35" y1="475.87" x2="185.35" y2="475.87" stroke="#f052e0" stroke-width="1.5" />
<line x1="222.55" y1="410.9" x2="222.55" y2="457.38" stroke="#f052e0" stroke-width="1.5" />
<line x1="217.55" y1="410.9" x2="227.55" y2="410.9" stroke="#f052e0" stroke-width="1.5" />
<line x1="217.55" y1="457.38" x2="227.55" y2="457.38" stroke="#f052e0" stroke-width="1.5" />
<line x1="275.3" y1="400.86" x2="275.3" y2="454.74" stroke="#f052e0" stroke-width="1.5" />
<line x1="270.3" y1="400.86" x2="280.3" y2="400.86" stroke="#f052e0" stroke-width="1.5" />
<line x1="270.3" y1="454.74" x2="280.3" y2="454.74" stroke="#f052e0" stroke-width="1.5" />
<line x1="328.05" y1="416.71" x2="328.05" y2="432.56" stroke="#f052e0" stroke-width="1.5" />
<line x1="323.05" y1="416.71" x2="333.05" y2="416.71" stroke="#f052e0" stroke-width="1.5" />
<line x1="323.05" y1="432.56" x2="333.05" y2="432.56" stroke="#f052e0" stroke-width="1.5" />
<line x1="401.9" y1="387.13" x2="401.9" y2="451.57" stroke="#f052e0" stroke-width="1.5" />
<line x1="396.9" y1="387.13" x2="406.9" y2="387.13" stroke="#f052e0" stroke-width="1.5" />
<line x1="396.9" y1="451.57" x2="406.9" y2="451.57" stroke="#f052e0" stroke-width="1.5" />
<polyline points="95.95,480.63 127.6,462.14 180.35,467.95 222.55,434.14 275.3,427.8 328.05,424.63 401.9,419.35" fill="none" stroke="#f052e0" stroke-width="2" stroke-linejoin="round"/>
<rect x="90.35" y="475.03" width="11.2" height="11.2" fill="#f052e0"/>
<rect x="122" y="456.54" width="11.2" height="11.2" fill="#f052e0"/>
<rect x="174.75" y="462.35" width="11.2" height="11.2" fill="#f052e0"/>
<rect x="216.95" y="428.54" width="11.2" height="11.2" fill="#f052e0"/>
<rect x="269.7" y="422.2" width="11.2" height="11.2" fill="#f052e0"/>
<rect x="322.45" y="419.03" width="11.2" height="11.2" fill="#f052e0"/>
<rect x="396.3" y="413.75" width="11.2" height="11.2" fill="#f052e0"/>
<line x1="95.95" y1="451.04" x2="95.95" y2="466.89" stroke="#ffff00" stroke-width="1.5" />
<line x1="90.95" y1="451.04" x2="100.95" y2="451.04" stroke="#ffff00" stroke-width="1.5" />
<line x1="90.95" y1="466.89" x2="100.95" y2="466.89" stroke="#ffff00" stroke-width="1.5" />
<line x1="127.6" y1="414.59" x2="127.6" y2="465.31" stroke="#ffff00" stroke-width="1.5" />
<line x1="122.6" y1="414.59" x2="132.6" y2="414.59" stroke="#ffff00" stroke-width="1.5" />
<line x1="122.6" y1="465.31" x2="132.6" y2="465.31" stroke="#ffff00" stroke-width="1.5" />
<line x1="180.35" y1="467.95" x2="180.35" y2="502.81" stroke="#ffff00" stroke-width="1.5" />
<line x1="175.35" y1="467.95" x2="185.35" y2="467.95" stroke="#ffff00" stroke-width="1.5" />
<line x1="175.35" y1="502.81" x2="185.35" y2="502.81" stroke="#ffff00" stroke-width="1.5" />
<line x1="222.55" y1="443.65" x2="222.55" y2="459.5" stroke="#ffff00" stroke-width="1.5" />
<line x1="217.55" y1="443.65" x2="227.55" y2="443.65" stroke="#ffff00" stroke-width="1.5" />
<line x1="217.55" y1="459.5" x2="227.55" y2="459.5" stroke="#ffff00" stroke-width="1.5" />
<line x1="275.3" y1="435.2" x2="275.3" y2="451.04" stroke="#ffff00" stroke-width="1.5" />
<line x1="270.3" y1="435.2" x2="280.3" y2="435.2" stroke="#ffff00" stroke-width="1.5" />
<line x1="270.3" y1="451.04" x2="280.3" y2="451.04" stroke="#ffff00" stroke-width="1.5" />
<line x1="328.05" y1="414.07" x2="328.05" y2="429.91" stroke="#ffff00" stroke-width="1.5" />
<line x1="323.05" y1="414.07" x2="333.05" y2="414.07" stroke="#ffff00" stroke-width="1.5" />
<line x1="323.05" y1="429.91" x2="333.05" y2="429.91" stroke="#ffff00" stroke-width="1.5" />
<line x1="401.9" y1="404.03" x2="401.9" y2="425.16" stroke="#ffff00" stroke-width="1.5" />
<line x1="396.9" y1="404.03" x2="406.9" y2="404.03" stroke="#ffff00" stroke-width="1.5" />
<line x1="396.9" y1="425.16" x2="406.9" y2="425.16" stroke="#ffff00" stroke-width="1.5" />
<polyline points="95.95,458.97 127.6,439.95 180.35,485.38 222.55,451.57 275.3,443.12 328.05,421.99 401.9,414.59" fill="none" stroke="#ffff00" stroke-width="2" stroke-linejoin="round"/>
<polygon points="95.95,453.17 101.55,458.97 95.95,464.77 90.35,458.97" fill="#ffff00"/>
<polygon points="127.6,434.15 133.2,439.95 127.6,445.75 122,439.95" fill="#ffff00"/>
<polygon points="180.35,479.58 185.95,485.38 180.35,491.18 174.75,485.38" fill="#ffff00"/>
<polygon points="222.55,445.77 228.15,451.57 222.55,457.37 216.95,451.57" fill="#ffff00"/>
<polygon points="275.3,437.32 280.9,443.12 275.3,448.92 269.7,443.12" fill="#ffff00"/>
<polygon points="328.05,416.19 333.65,421.99 328.05,427.79 322.45,421.99" fill="#ffff00"/>
<polygon points="401.9,408.79 407.5,414.59 401.9,420.39 396.3,414.59" fill="#ffff00"/>
<line x1="95.95" y1="462.67" x2="95.95" y2="473.23" stroke="#4d9cf0" stroke-width="1.5" />
<line x1="90.95" y1="462.67" x2="100.95" y2="462.67" stroke="#4d9cf0" stroke-width="1.5" />
<line x1="90.95" y1="473.23" x2="100.95" y2="473.23" stroke="#4d9cf0" stroke-width="1.5" />
<line x1="127.6" y1="451.04" x2="127.6" y2="466.89" stroke="#4d9cf0" stroke-width="1.5" />
<line x1="122.6" y1="451.04" x2="132.6" y2="451.04" stroke="#4d9cf0" stroke-width="1.5" />
<line x1="122.6" y1="466.89" x2="132.6" y2="466.89" stroke="#4d9cf0" stroke-width="1.5" />
<line x1="180.35" y1="456.85" x2="180.35" y2="472.7" stroke="#4d9cf0" stroke-width="1.5" />
<line x1="175.35" y1="456.85" x2="185.35" y2="456.85" stroke="#4d9cf0" stroke-width="1.5" />
<line x1="175.35" y1="472.7" x2="185.35" y2="472.7" stroke="#4d9cf0" stroke-width="1.5" />
<line x1="222.55" y1="447.87" x2="222.55" y2="463.72" stroke="#4d9cf0" stroke-width="1.5" />
<line x1="217.55" y1="447.87" x2="227.55" y2="447.87" stroke="#4d9cf0" stroke-width="1.5" />
<line x1="217.55" y1="463.72" x2="227.55" y2="463.72" stroke="#4d9cf0" stroke-width="1.5" />
<line x1="275.3" y1="468.48" x2="275.3" y2="491.72" stroke="#4d9cf0" stroke-width="1.5" />
<line x1="270.3" y1="468.48" x2="280.3" y2="468.48" stroke="#4d9cf0" stroke-width="1.5" />
<line x1="270.3" y1="491.72" x2="280.3" y2="491.72" stroke="#4d9cf0" stroke-width="1.5" />
<line x1="328.05" y1="438.89" x2="328.05" y2="454.74" stroke="#4d9cf0" stroke-width="1.5" />
<line x1="323.05" y1="438.89" x2="333.05" y2="438.89" stroke="#4d9cf0" stroke-width="1.5" />
<line x1="323.05" y1="454.74" x2="333.05" y2="454.74" stroke="#4d9cf0" stroke-width="1.5" />
<line x1="401.9" y1="434.14" x2="401.9" y2="448.93" stroke="#4d9cf0" stroke-width="1.5" />
<line x1="396.9" y1="434.14" x2="406.9" y2="434.14" stroke="#4d9cf0" stroke-width="1.5" />
<line x1="396.9" y1="448.93" x2="406.9" y2="448.93" stroke="#4d9cf0" stroke-width="1.5" />
<polyline points="95.95,467.95 127.6,458.97 180.35,464.78 222.55,455.8 275.3,480.1 328.05,446.82 401.9,441.54" fill="none" stroke="#4d9cf0" stroke-width="2" stroke-linejoin="round"/>
<polygon points="95.95,462.15 101.55,467.95 95.95,473.75 90.35,467.95" fill="#4d9cf0"/>
<polygon points="127.6,453.17 133.2,458.97 127.6,464.77 122,458.97" fill="#4d9cf0"/>
<polygon points="180.35,458.98 185.95,464.78 180.35,470.58 174.75,464.78" fill="#4d9cf0"/>
<polygon points="222.55,450 228.15,455.8 222.55,461.6 216.95,455.8" fill="#4d9cf0"/>
<polygon points="275.3,474.3 280.9,480.1 275.3,485.9 269.7,480.1" fill="#4d9cf0"/>
<polygon points="328.05,441.02 333.65,446.82 328.05,452.62 322.45,446.82" fill="#4d9cf0"/>
<polygon points="401.9,435.74 407.5,441.54 401.9,447.34 396.3,441.54" fill="#4d9cf0"/>
<line x1="95.95" y1="438.89" x2="95.95" y2="464.25" stroke="#303030" stroke-width="1.5" />
<line x1="90.95" y1="438.89" x2="100.95" y2="438.89" stroke="#303030" stroke-width="1.5" />
<line x1="90.95" y1="464.25" x2="100.95" y2="464.25" stroke="#303030" stroke-width="1.5" />
<line x1="127.6" y1="469.53" x2="127.6" y2="485.38" stroke="#303030" stroke-width="1.5" />
<line x1="122.6" y1="469.53" x2="132.6" y2="469.53" stroke="#303030" stroke-width="1.5" />
<line x1="122.6" y1="485.38" x2="132.6" y2="485.38" stroke="#303030" stroke-width="1.5" />
<line x1="180.35" y1="466.89" x2="180.35" y2="482.74" stroke="#303030" stroke-width="1.5" />
<line x1="175.35" y1="466.89" x2="185.35" y2="466.89" stroke="#303030" stroke-width="1.5" />
<line x1="175.35" y1="482.74" x2="185.35" y2="482.74" stroke="#303030" stroke-width="1.5" />
<line x1="222.55" y1="465.31" x2="222.55" y2="486.44" stroke="#303030" stroke-width="1.5" />
<line x1="217.55" y1="465.31" x2="227.55" y2="465.31" stroke="#303030" stroke-width="1.5" />
<line x1="217.55" y1="486.44" x2="227.55" y2="486.44" stroke="#303030" stroke-width="1.5" />
<line x1="275.3" y1="455.27" x2="275.3" y2="471.12" stroke="#303030" stroke-width="1.5" />
<line x1="270.3" y1="455.27" x2="280.3" y2="455.27" stroke="#303030" stroke-width="1.5" />
<line x1="270.3" y1="471.12" x2="280.3" y2="471.12" stroke="#303030" stroke-width="1.5" />
<line x1="328.05" y1="443.65" x2="328.05" y2="464.78" stroke="#303030" stroke-width="1.5" />
<line x1="323.05" y1="443.65" x2="333.05" y2="443.65" stroke="#303030" stroke-width="1.5" />
<line x1="323.05" y1="464.78" x2="333.05" y2="464.78" stroke="#303030" stroke-width="1.5" />
<line x1="401.9" y1="425.69" x2="401.9" y2="461.61" stroke="#303030" stroke-width="1.5" />
<line x1="396.9" y1="425.69" x2="406.9" y2="425.69" stroke="#303030" stroke-width="1.5" />
<line x1="396.9" y1="461.61" x2="406.9" y2="461.61" stroke="#303030" stroke-width="1.5" />
<polyline points="95.95,451.57 127.6,477.46 180.35,474.81 222.55,475.87 275.3,463.19 328.05,454.21 401.9,443.65" fill="none" stroke="#303030" stroke-width="2" stroke-linejoin="round"/>
<polygon points="89.75,445.77 102.15,445.77 95.95,457.37" fill="#303030"/>
<polygon points="121.4,471.66 133.8,471.66 127.6,483.26" fill="#303030"/>
<polygon points="174.15,469.01 186.55,469.01 180.35,480.62" fill="#303030"/>
<polygon points="216.35,470.07 228.75,470.07 222.55,481.67" fill="#303030"/>
<polygon points="269.1,457.39 281.5,457.39 275.3,468.99" fill="#303030"/>
<polygon points="321.85,448.41 334.25,448.41 328.05,460.01" fill="#303030"/>
<polygon points="395.7,437.85 408.1,437.85 401.9,449.45" fill="#303030"/>
<line x1="95.95" y1="411.43" x2="95.95" y2="477.98" stroke="#a8a8a8" stroke-width="1.5" />
<line x1="90.95" y1="411.43" x2="100.95" y2="411.43" stroke="#a8a8a8" stroke-width="1.5" />
<line x1="90.95" y1="477.98" x2="100.95" y2="477.98" stroke="#a8a8a8" stroke-width="1.5" />
<line x1="127.6" y1="473.76" x2="127.6" y2="497" stroke="#a8a8a8" stroke-width="1.5" />
<line x1="122.6" y1="473.76" x2="132.6" y2="473.76" stroke="#a8a8a8" stroke-width="1.5" />
<line x1="122.6" y1="497" x2="132.6" y2="497" stroke="#a8a8a8" stroke-width="1.5" />
<line x1="180.35" y1="467.42" x2="180.35" y2="483.27" stroke="#a8a8a8" stroke-width="1.5" />
<line x1="175.35" y1="467.42" x2="185.35" y2="467.42" stroke="#a8a8a8" stroke-width="1.5" />
<line x1="175.35" y1="483.27" x2="185.35" y2="483.27" stroke="#a8a8a8" stroke-width="1.5" />
<line x1="222.55" y1="484.85" x2="222.55" y2="499.64" stroke="#a8a8a8" stroke-width="1.5" />
<line x1="217.55" y1="484.85" x2="227.55" y2="484.85" stroke="#a8a8a8" stroke-width="1.5" />
<line x1="217.55" y1="499.64" x2="227.55" y2="499.64" stroke="#a8a8a8" stroke-width="1.5" />
<line x1="275.3" y1="457.91" x2="275.3" y2="473.76" stroke="#a8a8a8" stroke-width="1.5" />
<line x1="270.3" y1="457.91" x2="280.3" y2="457.91" stroke="#a8a8a8" stroke-width="1.5" />
<line x1="270.3" y1="473.76" x2="280.3" y2="473.76" stroke="#a8a8a8" stroke-width="1.5" />
<line x1="328.05" y1="435.72" x2="328.05" y2="451.57" stroke="#a8a8a8" stroke-width="1.5" />
<line x1="323.05" y1="435.72" x2="333.05" y2="435.72" stroke="#a8a8a8" stroke-width="1.5" />
<line x1="323.05" y1="451.57" x2="333.05" y2="451.57" stroke="#a8a8a8" stroke-width="1.5" />
<line x1="401.9" y1="426.22" x2="401.9" y2="447.35" stroke="#a8a8a8" stroke-width="1.5" />
<line x1="396.9" y1="426.22" x2="406.9" y2="426.22" stroke="#a8a8a8" stroke-width="1.5" />
<line x1="396.9" y1="447.35" x2="406.9" y2="447.35" stroke="#a8a8a8" stroke-width="1.5" />
<polyline points="95.95,444.7 127.6,485.38 180.35,475.34 222.55,492.25 275.3,465.83 328.05,443.65 401.9,436.78" fill="none" stroke="#a8a8a8" stroke-width="2" stroke-linejoin="round"/>
<polygon points="95.95,438.9 102.15,450.5 89.75,450.5" fill="#a8a8a8"/>
<polygon points="127.6,479.58 133.8,491.18 121.4,491.18" fill="#a8a8a8"/>
<polygon points="180.35,469.54 186.55,481.14 174.15,481.14" fill="#a8a8a8"/>
<polygon points="222.55,486.45 228.75,498.05 216.35,498.05" fill="#a8a8a8"/>
<polygon points="275.3,460.03 281.5,471.63 269.1,471.63" fill="#a8a8a8"/>
<polygon points="328.05,437.85 334.25,449.45 321.85,449.45" fill="#a8a8a8"/>
<polygon points="401.9,430.98 408.1,442.58 395.7,442.58" fill="#a8a8a8"/>
<line x1="95.95" y1="445.23" x2="95.95" y2="457.91" stroke="#0a820a" stroke-width="1.5" />
<line x1="90.95" y1="445.23" x2="100.95" y2="445.23" stroke="#0a820a" stroke-width="1.5" />
<line x1="90.95" y1="457.91" x2="100.95" y2="457.91" stroke="#0a820a" stroke-width="1.5" />
<line x1="127.6" y1="422.52" x2="127.6" y2="436.25" stroke="#0a820a" stroke-width="1.5" />
<line x1="122.6" y1="422.52" x2="132.6" y2="422.52" stroke="#0a820a" stroke-width="1.5" />
<line x1="122.6" y1="436.25" x2="132.6" y2="436.25" stroke="#0a820a" stroke-width="1.5" />
<line x1="180.35" y1="428.33" x2="180.35" y2="451.57" stroke="#0a820a" stroke-width="1.5" />
<line x1="175.35" y1="428.33" x2="185.35" y2="428.33" stroke="#0a820a" stroke-width="1.5" />
<line x1="175.35" y1="451.57" x2="185.35" y2="451.57" stroke="#0a820a" stroke-width="1.5" />
<line x1="222.55" y1="408.26" x2="222.55" y2="449.46" stroke="#0a820a" stroke-width="1.5" />
<line x1="217.55" y1="408.26" x2="227.55" y2="408.26" stroke="#0a820a" stroke-width="1.5" />
<line x1="217.55" y1="449.46" x2="227.55" y2="449.46" stroke="#0a820a" stroke-width="1.5" />
<line x1="275.3" y1="398.22" x2="275.3" y2="438.37" stroke="#0a820a" stroke-width="1.5" />
<line x1="270.3" y1="398.22" x2="280.3" y2="398.22" stroke="#0a820a" stroke-width="1.5" />
<line x1="270.3" y1="438.37" x2="280.3" y2="438.37" stroke="#0a820a" stroke-width="1.5" />
<line x1="328.05" y1="374.98" x2="328.05" y2="416.18" stroke="#0a820a" stroke-width="1.5" />
<line x1="323.05" y1="374.98" x2="333.05" y2="374.98" stroke="#0a820a" stroke-width="1.5" />
<line x1="323.05" y1="416.18" x2="333.05" y2="416.18" stroke="#0a820a" stroke-width="1.5" />
<line x1="401.9" y1="369.69" x2="401.9" y2="403.5" stroke="#0a820a" stroke-width="1.5" />
<line x1="396.9" y1="369.69" x2="406.9" y2="369.69" stroke="#0a820a" stroke-width="1.5" />
<line x1="396.9" y1="403.5" x2="406.9" y2="403.5" stroke="#0a820a" stroke-width="1.5" />
<polyline points="95.95,451.57 127.6,429.39 180.35,439.95 222.55,428.86 275.3,418.29 328.05,395.58 401.9,386.6" fill="none" stroke="#0a820a" stroke-width="2" stroke-linejoin="round"/>
<circle cx="95.95" cy="451.57" r="6" fill="#0a820a"/>
<circle cx="127.6" cy="429.39" r="6" fill="#0a820a"/>
<circle cx="180.35" cy="439.95" r="6" fill="#0a820a"/>
<circle cx="222.55" cy="428.86" r="6" fill="#0a820a"/>
<circle cx="275.3" cy="418.29" r="6" fill="#0a820a"/>
<circle cx="328.05" cy="395.58" r="6" fill="#0a820a"/>
<circle cx="401.9" cy="386.6" r="6" fill="#0a820a"/>
<line x1="95.95" y1="460.02" x2="95.95" y2="470.59" stroke="#0000ff" stroke-width="1.5" />
<line x1="90.95" y1="460.02" x2="100.95" y2="460.02" stroke="#0000ff" stroke-width="1.5" />
<line x1="90.95" y1="470.59" x2="100.95" y2="470.59" stroke="#0000ff" stroke-width="1.5" />
<line x1="127.6" y1="449.46" x2="127.6" y2="465.31" stroke="#0000ff" stroke-width="1.5" />
<line x1="122.6" y1="449.46" x2="132.6" y2="449.46" stroke="#0000ff" stroke-width="1.5" />
<line x1="122.6" y1="465.31" x2="132.6" y2="465.31" stroke="#0000ff" stroke-width="1.5" />
<line x1="180.35" y1="443.12" x2="180.35" y2="458.97" stroke="#0000ff" stroke-width="1.5" />
<line x1="175.35" y1="443.12" x2="185.35" y2="443.12" stroke="#0000ff" stroke-width="1.5" />
<line x1="175.35" y1="458.97" x2="185.35" y2="458.97" stroke="#0000ff" stroke-width="1.5" />
<line x1="222.55" y1="436.25" x2="222.55" y2="452.1" stroke="#0000ff" stroke-width="1.5" />
<line x1="217.55" y1="436.25" x2="227.55" y2="436.25" stroke="#0000ff" stroke-width="1.5" />
<line x1="217.55" y1="452.1" x2="227.55" y2="452.1" stroke="#0000ff" stroke-width="1.5" />
<line x1="275.3" y1="428.33" x2="275.3" y2="444.18" stroke="#0000ff" stroke-width="1.5" />
<line x1="270.3" y1="428.33" x2="280.3" y2="428.33" stroke="#0000ff" stroke-width="1.5" />
<line x1="270.3" y1="444.18" x2="280.3" y2="444.18" stroke="#0000ff" stroke-width="1.5" />
<line x1="328.05" y1="423.05" x2="328.05" y2="438.89" stroke="#0000ff" stroke-width="1.5" />
<line x1="323.05" y1="423.05" x2="333.05" y2="423.05" stroke="#0000ff" stroke-width="1.5" />
<line x1="323.05" y1="438.89" x2="333.05" y2="438.89" stroke="#0000ff" stroke-width="1.5" />
<line x1="401.9" y1="391.35" x2="401.9" y2="441.01" stroke="#0000ff" stroke-width="1.5" />
<line x1="396.9" y1="391.35" x2="406.9" y2="391.35" stroke="#0000ff" stroke-width="1.5" />
<line x1="396.9" y1="441.01" x2="406.9" y2="441.01" stroke="#0000ff" stroke-width="1.5" />
<polyline points="95.95,465.31 127.6,457.38 180.35,451.04 222.55,444.18 275.3,436.25 328.05,430.97 401.9,416.18" fill="none" stroke="#0000ff" stroke-width="2" stroke-linejoin="round"/>
<circle cx="95.95" cy="465.31" r="6" fill="#0000ff"/>
<circle cx="127.6" cy="457.38" r="6" fill="#0000ff"/>
<circle cx="180.35" cy="451.04" r="6" fill="#0000ff"/>
<circle cx="222.55" cy="444.18" r="6" fill="#0000ff"/>
<circle cx="275.3" cy="436.25" r="6" fill="#0000ff"/>
<circle cx="328.05" cy="430.97" r="6" fill="#0000ff"/>
<circle cx="401.9" cy="416.18" r="6" fill="#0000ff"/>
<polyline points="110.8,412.7 110.8,404.3 152.2,404.3 152.2,412.7" fill="none" stroke="#333" stroke-width="1.5"/>
<path d="M122.7,392.1L122.7,397.9M120.19,393.55L125.21,396.45M120.19,396.45L125.21,393.55" stroke="#111" stroke-width="1.5" stroke-linecap="round" fill="none"/>
<circle cx="122.7" cy="395" r="1.5" fill="#111"/>
<path d="M131.9,392.1L131.9,397.9M129.39,393.55L134.41,396.45M129.39,396.45L134.41,393.55" stroke="#111" stroke-width="1.5" stroke-linecap="round" fill="none"/>
<circle cx="131.9" cy="395" r="1.5" fill="#111"/>
<path d="M141.1,392.1L141.1,397.9M138.59,393.55L143.61,396.45M138.59,396.45L143.61,393.55" stroke="#111" stroke-width="1.5" stroke-linecap="round" fill="none"/>
<circle cx="141.1" cy="395" r="1.5" fill="#111"/>
<polyline points="204.6,390.5 204.6,383 245.6,383 245.6,390.5" fill="none" stroke="#333" stroke-width="1.5"/>
<path d="M225.1,369.9L225.1,375.7M222.59,371.35L227.61,374.25M222.59,374.25L227.61,371.35" stroke="#111" stroke-width="1.5" stroke-linecap="round" fill="none"/>
<circle cx="225.1" cy="372.8" r="1.5" fill="#111"/>
<polyline points="208,411 208,403.5 249.4,403.5 249.4,411" fill="none" stroke="#333" stroke-width="1.5"/>
<path d="M223.9,390L223.9,395.8M221.39,391.45L226.41,394.35M221.39,394.35L226.41,391.45" stroke="#111" stroke-width="1.5" stroke-linecap="round" fill="none"/>
<circle cx="223.9" cy="392.9" r="1.5" fill="#111"/>
<path d="M233.1,390L233.1,395.8M230.59,391.45L235.61,394.35M230.59,394.35L235.61,391.45" stroke="#111" stroke-width="1.5" stroke-linecap="round" fill="none"/>
<circle cx="233.1" cy="392.9" r="1.5" fill="#111"/>
<polyline points="412,409.5 417.2,409.5 417.2,442.8 412,442.8" fill="none" stroke="#333" stroke-width="1.5"/>
<path d="M428.2,427.8L428.2,433.6M425.69,429.25L430.71,432.15M425.69,432.15L430.71,429.25" stroke="#111" stroke-width="1.5" stroke-linecap="round" fill="none"/>
<circle cx="428.2" cy="430.7" r="1.5" fill="#111"/>
<path d="M437,427.8L437,433.6M434.49,429.25L439.51,432.15M434.49,432.15L439.51,429.25" stroke="#111" stroke-width="1.5" stroke-linecap="round" fill="none"/>
<circle cx="437" cy="430.7" r="1.5" fill="#111"/>
<polyline points="438.2,405.1 442.6,405.1 442.6,444.6 438.2,444.6" fill="none" stroke="#333" stroke-width="1.5"/>
<path d="M453.92,426.2L453.92,432M451.41,427.65L456.44,430.55M451.41,430.55L456.44,427.65" stroke="#111" stroke-width="1.5" stroke-linecap="round" fill="none"/>
<circle cx="453.92" cy="429.1" r="1.5" fill="#111"/>
<path d="M462.57,426.2L462.57,432M460.06,427.65L465.09,430.55M460.06,430.55L465.09,427.65" stroke="#111" stroke-width="1.5" stroke-linecap="round" fill="none"/>
<circle cx="462.57" cy="429.1" r="1.5" fill="#111"/>
<path d="M471.22,426.2L471.22,432M468.71,427.65L473.74,430.55M468.71,430.55L473.74,427.65" stroke="#111" stroke-width="1.5" stroke-linecap="round" fill="none"/>
<circle cx="471.22" cy="429.1" r="1.5" fill="#111"/>
<path d="M479.87,426.2L479.87,432M477.36,427.65L482.39,430.55M477.36,430.55L482.39,427.65" stroke="#111" stroke-width="1.5" stroke-linecap="round" fill="none"/>
<circle cx="479.87" cy="429.1" r="1.5" fill="#111"/>
<polyline points="447.4,379.6 452.4,379.6 452.4,419.1 447.4,419.1" fill="none" stroke="#333" stroke-width="1.5"/>
<path d="M463.55,400.8L463.55,406.6M461.04,402.25L466.06,405.15M461.04,405.15L466.06,402.25" stroke="#111" stroke-width="1.5" stroke-linecap="round" fill="none"/>
<circle cx="463.55" cy="403.7" r="1.5" fill="#111"/>
<path d="M472.25,400.8L472.25,406.6M469.74,402.25L474.76,405.15M469.74,405.15L474.76,402.25" stroke="#111" stroke-width="1.5" stroke-linecap="round" fill="none"/>
<circle cx="472.25" cy="403.7" r="1.5" fill="#111"/>
<path d="M480.95,400.8L480.95,406.6M478.44,402.25L483.46,405.15M478.44,405.15L483.46,402.25" stroke="#111" stroke-width="1.5" stroke-linecap="round" fill="none"/>
<circle cx="480.95" cy="403.7" r="1.5" fill="#111"/>
<path d="M489.65,400.8L489.65,406.6M487.14,402.25L492.16,405.15M487.14,405.15L492.16,402.25" stroke="#111" stroke-width="1.5" stroke-linecap="round" fill="none"/>
<circle cx="489.65" cy="403.7" r="1.5" fill="#111"/>
<line x1="508.4" y1="328.3" x2="533.2" y2="328.3" stroke="#0000ff" stroke-width="1.6" />
<circle cx="520.7" cy="328.3" r="6" fill="#0000ff"/>
<text transform="translate(547.9,334.1) scale(1.0241,1)" x="-0.63" y="0" font-size="15.771" fill="#1a1a1a">0.9% NaCl (F)</text>
<line x1="508.4" y1="352.5" x2="533.2" y2="352.5" stroke="#0a820a" stroke-width="1.6" />
<circle cx="520.7" cy="352.5" r="6" fill="#0a820a"/>
<text transform="translate(547.9,358.3) scale(1.0232,1)" x="-0.63" y="0" font-size="15.771" fill="#1a1a1a">0.9% NaCl (M)</text>
<line x1="508.4" y1="376.8" x2="533.2" y2="376.8" stroke="#a8a8a8" stroke-width="1.6" />
<polygon points="520.7,371 526.9,382.6 514.5,382.6" fill="#a8a8a8"/>
<text transform="translate(547.9,382.6) scale(1.0513,1)" x="-1.18" y="0" font-size="15.771" fill="#1a1a1a">18.5 MBq/kg (F)</text>
<line x1="508.4" y1="403.5" x2="533.2" y2="403.5" stroke="#303030" stroke-width="1.6" />
<polygon points="514.5,397.7 526.9,397.7 520.7,409.3" fill="#303030"/>
<text transform="translate(547.9,409.3) scale(1.0654,1)" x="-1.18" y="0" font-size="15.771" fill="#1a1a1a">18.5 MBq/kg (M)</text>
<line x1="508.4" y1="429.5" x2="533.2" y2="429.5" stroke="#4d9cf0" stroke-width="1.6" />
<polygon points="520.7,423.7 526.3,429.5 520.7,435.3 515.1,429.5" fill="#4d9cf0"/>
<text transform="translate(547.9,435.3) scale(1.0476,1)" x="-0.59" y="0" font-size="15.771" fill="#1a1a1a">37.0 MBq/kg (F)</text>
<line x1="508.4" y1="457.2" x2="533.2" y2="457.2" stroke="#ffff00" stroke-width="1.6" />
<polygon points="520.7,451.4 526.3,457.2 520.7,463 515.1,457.2" fill="#ffff00"/>
<text transform="translate(547.9,463) scale(1.0530,1)" x="-0.59" y="0" font-size="15.771" fill="#1a1a1a">37.0 MBq/kg (M)</text>
<line x1="508.4" y1="485.7" x2="533.2" y2="485.7" stroke="#f052e0" stroke-width="1.6" />
<rect x="515.1" y="480.1" width="11.2" height="11.2" fill="#f052e0"/>
<text transform="translate(547.9,491.5) scale(1.0494,1)" x="-0.79" y="0" font-size="15.771" fill="#1a1a1a">74.0 MBq/kg (F)</text>
<line x1="508.4" y1="515.3" x2="533.2" y2="515.3" stroke="#ff0000" stroke-width="1.6" />
<rect x="515.1" y="509.7" width="11.2" height="11.2" fill="#ff0000"/>
<text transform="translate(547.9,521.1) scale(1.0548,1)" x="-0.79" y="0" font-size="15.771" fill="#1a1a1a">74.0 MBq/kg (M)</text>
<defs>
<pattern id="p1" width="4.6" height="8.6" patternUnits="userSpaceOnUse">
 <rect width="4.6" height="8.6" fill="#fff"/>
 <rect x="1" y="1" width="1.5" height="1.5" fill="#4444a0"/>
 <rect x="3.3" y="5.3" width="1.5" height="1.5" fill="#4444a0"/>
</pattern>
<pattern id="p2" width="4.6" height="8.6" patternUnits="userSpaceOnUse">
 <rect width="4.6" height="8.6" fill="#fff"/>
 <rect x="1" y="1" width="1.4" height="1.4" fill="#cfcfcf"/>
 <rect x="3.3" y="5.3" width="1.4" height="1.4" fill="#cfcfcf"/>
</pattern>
<pattern id="p3" width="5.5" height="5.5" patternUnits="userSpaceOnUse">
 <rect width="5.5" height="5.5" fill="#fff"/>
 <path d="M-1,-1 L6.5,6.5 M-1,4.5 L1,6.5 M4.5,-1 L6.5,1" stroke="#1c1ca0" stroke-width="1.35"/>
</pattern>
<pattern id="p4" width="4.6" height="8.6" patternUnits="userSpaceOnUse">
 <rect width="4.6" height="8.6" fill="#cdcdcd"/>
 <rect x="1" y="1" width="1.5" height="1.5" fill="#5c5c5c"/>
 <rect x="3.3" y="5.3" width="1.5" height="1.5" fill="#5c5c5c"/>
</pattern>
<pattern id="p5" width="6" height="6" patternUnits="userSpaceOnUse">
 <rect width="6" height="6" fill="#fff"/>
 <path d="M-1,7 L7,-1 M-1,1 L1,-1 M5,7 L7,5" stroke="#2323d0" stroke-width="1.6"/>
</pattern>
<pattern id="p6" width="10" height="6.4" patternUnits="userSpaceOnUse">
 <rect width="10" height="6.4" fill="#fff"/>
 <rect x="0" y="2.6" width="10" height="1.2" fill="#8a8a8a"/>
</pattern>
<pattern id="p7" width="6.4" height="7.2" patternUnits="userSpaceOnUse" patternTransform="rotate(-40)">
 <rect width="6.4" height="7.2" fill="#fbfbff"/>
 <rect x="0" y="0" width="6.4" height="1.25" fill="#1c1cb4"/>
 <rect x="0" y="3.6" width="6.4" height="1.25" fill="#1c1cb4"/>
 <rect x="0" y="0" width="1.25" height="3.6" fill="#1c1cb4"/>
 <rect x="3.2" y="3.6" width="1.25" height="3.6" fill="#1c1cb4"/>
</pattern>
<pattern id="p8" width="7.9" height="6.6" patternUnits="userSpaceOnUse">
 <rect width="7.9" height="6.6" fill="#f0f0f0"/>
 <rect x="0.4" y="0.5" width="6.3" height="2.3" fill="#6a6a6a"/>
 <rect x="4.35" y="3.8" width="6.3" height="2.3" fill="#6a6a6a"/>
 <rect x="-3.55" y="3.8" width="6.3" height="2.3" fill="#6a6a6a"/>
</pattern>
</defs>
<text transform="translate(2.8,627.5) scale(0.8180,1)" x="-0.92" y="0" font-size="23.070" fill="#000" font-weight="bold">c</text>
<line x1="88.4" y1="641.65" x2="88.4" y2="884.6" stroke="#000" stroke-width="1.6" />
<line x1="79" y1="884.6" x2="525" y2="884.6" stroke="#000" stroke-width="1.8" />
<line x1="79" y1="884.6" x2="88.4" y2="884.6" stroke="#000" stroke-width="1.6" />
<text transform="translate(66.21,890.35) scale(1.0911,1)" x="-0.71" y="0" font-size="17.634" fill="#111">0</text>
<line x1="79" y1="850" x2="88.4" y2="850" stroke="#000" stroke-width="1.6" />
<text transform="translate(55.53,855.75) scale(1.0911,1)" x="-0.71" y="0" font-size="17.634" fill="#111">50</text>
<line x1="79" y1="815.4" x2="88.4" y2="815.4" stroke="#000" stroke-width="1.6" />
<text transform="translate(45.48,821.15) scale(1.0911,1)" x="-1.32" y="0" font-size="17.634" fill="#111">100</text>
<line x1="79" y1="780.8" x2="88.4" y2="780.8" stroke="#000" stroke-width="1.6" />
<text transform="translate(45.48,786.55) scale(1.0911,1)" x="-1.32" y="0" font-size="17.634" fill="#111">150</text>
<line x1="79" y1="746.2" x2="88.4" y2="746.2" stroke="#000" stroke-width="1.6" />
<text transform="translate(45,751.95) scale(1.0911,1)" x="-0.88" y="0" font-size="17.634" fill="#111">200</text>
<line x1="79" y1="711.6" x2="88.4" y2="711.6" stroke="#000" stroke-width="1.6" />
<text transform="translate(45,717.35) scale(1.0911,1)" x="-0.88" y="0" font-size="17.634" fill="#111">250</text>
<line x1="79" y1="677" x2="88.4" y2="677" stroke="#000" stroke-width="1.6" />
<text transform="translate(44.76,682.75) scale(1.0911,1)" x="-0.66" y="0" font-size="17.634" fill="#111">300</text>
<line x1="79" y1="642.4" x2="88.4" y2="642.4" stroke="#000" stroke-width="1.6" />
<text transform="translate(44.76,648.15) scale(1.0911,1)" x="-0.66" y="0" font-size="17.634" fill="#111">350</text>
<text transform="translate(32.3,839.2) rotate(-90) scale(0.9420,1)" x="-0.88" y="0" font-size="19.498" fill="#111">Spleen weight (mg)</text>
<rect x="101.1" y="755.2" width="22.2" height="129.4" fill="url(#p1)" stroke="#333" stroke-width="1.4"/>
<rect x="125.3" y="774.99" width="22.2" height="109.61" fill="url(#p2)" stroke="#333" stroke-width="1.4"/>
<rect x="149.5" y="817.96" width="22.2" height="66.64" fill="url(#p3)" stroke="#333" stroke-width="1.4"/>
<rect x="173.7" y="761.56" width="22.2" height="123.04" fill="url(#p4)" stroke="#333" stroke-width="1.4"/>
<rect x="197.9" y="809.17" width="22.2" height="75.43" fill="url(#p5)" stroke="#333" stroke-width="1.4"/>
<rect x="222.1" y="744.89" width="22.2" height="139.71" fill="url(#p6)" stroke="#333" stroke-width="1.4"/>
<rect x="246.3" y="799.21" width="22.2" height="85.39" fill="url(#p7)" stroke="#333" stroke-width="1.4"/>
<rect x="270.5" y="769.73" width="22.2" height="114.87" fill="url(#p8)" stroke="#333" stroke-width="1.4"/>
<line x1="112.2" y1="711.25" x2="112.2" y2="797.55" stroke="#222" stroke-width="1.3" />
<line x1="107" y1="711.25" x2="117.4" y2="711.25" stroke="#222" stroke-width="1.3" />
<line x1="107" y1="797.55" x2="117.4" y2="797.55" stroke="#222" stroke-width="1.3" />
<line x1="136.4" y1="722.33" x2="136.4" y2="827.23" stroke="#222" stroke-width="1.3" />
<line x1="131.2" y1="722.33" x2="141.6" y2="722.33" stroke="#222" stroke-width="1.3" />
<line x1="131.2" y1="827.23" x2="141.6" y2="827.23" stroke="#222" stroke-width="1.3" />
<line x1="160.6" y1="781.7" x2="160.6" y2="817.96" stroke="#222" stroke-width="1.3" />
<line x1="155.4" y1="781.7" x2="165.8" y2="781.7" stroke="#222" stroke-width="1.3" />
<line x1="184.8" y1="730.28" x2="184.8" y2="791.94" stroke="#222" stroke-width="1.3" />
<line x1="179.6" y1="730.28" x2="190" y2="730.28" stroke="#222" stroke-width="1.3" />
<line x1="179.6" y1="791.94" x2="190" y2="791.94" stroke="#222" stroke-width="1.3" />
<line x1="209" y1="791.04" x2="209" y2="809.17" stroke="#222" stroke-width="1.3" />
<line x1="203.8" y1="791.04" x2="214.2" y2="791.04" stroke="#222" stroke-width="1.3" />
<line x1="233.2" y1="665.44" x2="233.2" y2="744.89" stroke="#222" stroke-width="1.3" />
<line x1="228" y1="665.44" x2="238.4" y2="665.44" stroke="#222" stroke-width="1.3" />
<line x1="257.4" y1="773.53" x2="257.4" y2="823.22" stroke="#222" stroke-width="1.3" />
<line x1="252.2" y1="773.53" x2="262.6" y2="773.53" stroke="#222" stroke-width="1.3" />
<line x1="252.2" y1="823.22" x2="262.6" y2="823.22" stroke="#222" stroke-width="1.3" />
<line x1="281.6" y1="755.2" x2="281.6" y2="769.73" stroke="#aaa" stroke-width="1.3" />
<line x1="276.4" y1="755.2" x2="286.8" y2="755.2" stroke="#aaa" stroke-width="1.3" />
<rect x="318.8" y="754.99" width="22.2" height="129.61" fill="url(#p1)" stroke="#333" stroke-width="1.4"/>
<rect x="343.1" y="775.54" width="22.2" height="109.06" fill="url(#p2)" stroke="#333" stroke-width="1.4"/>
<rect x="367.4" y="792.63" width="22.2" height="91.97" fill="url(#p3)" stroke="#333" stroke-width="1.4"/>
<rect x="391.7" y="809.45" width="22.2" height="75.15" fill="url(#p4)" stroke="#333" stroke-width="1.4"/>
<rect x="416" y="811.73" width="22.2" height="72.87" fill="url(#p5)" stroke="#333" stroke-width="1.4"/>
<rect x="440.3" y="804.05" width="22.2" height="80.55" fill="url(#p6)" stroke="#333" stroke-width="1.4"/>
<rect x="464.6" y="776.09" width="22.2" height="108.51" fill="url(#p7)" stroke="#333" stroke-width="1.4"/>
<rect x="488.9" y="806.06" width="22.2" height="78.54" fill="url(#p8)" stroke="#333" stroke-width="1.4"/>
<line x1="329.9" y1="711.25" x2="329.9" y2="797.62" stroke="#222" stroke-width="1.3" />
<line x1="324.7" y1="711.25" x2="335.1" y2="711.25" stroke="#222" stroke-width="1.3" />
<line x1="324.7" y1="797.62" x2="335.1" y2="797.62" stroke="#222" stroke-width="1.3" />
<line x1="354.2" y1="722.33" x2="354.2" y2="827.23" stroke="#222" stroke-width="1.3" />
<line x1="349" y1="722.33" x2="359.4" y2="722.33" stroke="#222" stroke-width="1.3" />
<line x1="349" y1="827.23" x2="359.4" y2="827.23" stroke="#222" stroke-width="1.3" />
<line x1="378.5" y1="771.8" x2="378.5" y2="792.63" stroke="#222" stroke-width="1.3" />
<line x1="373.3" y1="771.8" x2="383.7" y2="771.8" stroke="#222" stroke-width="1.3" />
<line x1="402.8" y1="792.29" x2="402.8" y2="826.26" stroke="#222" stroke-width="1.3" />
<line x1="397.6" y1="792.29" x2="408" y2="792.29" stroke="#222" stroke-width="1.3" />
<line x1="397.6" y1="826.26" x2="408" y2="826.26" stroke="#222" stroke-width="1.3" />
<line x1="427.1" y1="791.6" x2="427.1" y2="811.73" stroke="#222" stroke-width="1.3" />
<line x1="421.9" y1="791.6" x2="432.3" y2="791.6" stroke="#222" stroke-width="1.3" />
<line x1="451.4" y1="793.95" x2="451.4" y2="804.05" stroke="#222" stroke-width="1.3" />
<line x1="446.2" y1="793.95" x2="456.6" y2="793.95" stroke="#222" stroke-width="1.3" />
<line x1="475.7" y1="757.96" x2="475.7" y2="794.29" stroke="#222" stroke-width="1.3" />
<line x1="470.5" y1="757.96" x2="480.9" y2="757.96" stroke="#222" stroke-width="1.3" />
<line x1="470.5" y1="794.29" x2="480.9" y2="794.29" stroke="#222" stroke-width="1.3" />
<line x1="500" y1="789.24" x2="500" y2="806.06" stroke="#aaa" stroke-width="1.3" />
<line x1="494.8" y1="789.24" x2="505.2" y2="789.24" stroke="#aaa" stroke-width="1.3" />
<line x1="196.8" y1="884.6" x2="196.8" y2="892.6" stroke="#000" stroke-width="1.8" />
<line x1="414.8" y1="884.6" x2="414.8" y2="892.6" stroke="#000" stroke-width="1.8" />
<path d="M232.6,646.9L232.6,652.7M230.09,648.35L235.11,651.25M230.09,651.25L235.11,648.35" stroke="#111" stroke-width="1.5" stroke-linecap="round" fill="none"/>
<circle cx="232.6" cy="649.8" r="1.5" fill="#111"/>
<text transform="translate(137.2,913.7) scale(1.0245,1)" x="-1.01" y="0" font-size="13.477" fill="#111">166</text>
<text transform="translate(161.3,921.3) scale(1.0188,1)" x="-1.5" y="0" font-size="18.182" fill="#111">Ho-EDTMP</text>
<text transform="translate(355.9,913.7) scale(1.0245,1)" x="-1.01" y="0" font-size="13.477" fill="#111">166</text>
<text transform="translate(379.7,921.4) scale(1.0188,1)" x="-1.5" y="0" font-size="18.182" fill="#111">Ho-DOTMP</text>
<rect x="521.6" y="634.2" width="24" height="7.4" fill="url(#p1)" stroke="#333" stroke-width="1.4"/>
<text transform="translate(559.8,643.25) scale(1.0828,1)" x="-0.59" y="0" font-size="14.767" fill="#1a1a1a">0.9% NaCl (F)</text>
<rect x="521.6" y="657.9" width="24" height="7.4" fill="url(#p2)" stroke="#333" stroke-width="1.4"/>
<text transform="translate(559.8,666.95) scale(1.0906,1)" x="-0.59" y="0" font-size="14.767" fill="#1a1a1a">0.9% NaCl (M)</text>
<rect x="521.6" y="681.7" width="24" height="7.4" fill="url(#p3)" stroke="#333" stroke-width="1.4"/>
<text transform="translate(559.8,690.75) scale(1.1103,1)" x="-1.11" y="0" font-size="14.767" fill="#1a1a1a">18.5 MBq/kg (F)</text>
<rect x="521.6" y="706.3" width="24" height="7.4" fill="url(#p4)" stroke="#333" stroke-width="1.4"/>
<text transform="translate(559.8,715.35) scale(1.1117,1)" x="-1.11" y="0" font-size="14.767" fill="#1a1a1a">18.5 MBq/kg (M)</text>
<rect x="521.6" y="731.3" width="24" height="7.4" fill="url(#p5)" stroke="#333" stroke-width="1.4"/>
<text transform="translate(559.8,740.35) scale(1.1044,1)" x="-0.55" y="0" font-size="14.767" fill="#1a1a1a">37.0 MBq/kg (F)</text>
<rect x="521.6" y="755.5" width="24" height="7.4" fill="url(#p6)" stroke="#333" stroke-width="1.4"/>
<text transform="translate(559.8,764.55) scale(1.1060,1)" x="-0.55" y="0" font-size="14.767" fill="#1a1a1a">37.0 MBq/kg (M)</text>
<rect x="521.6" y="779.8" width="24" height="7.4" fill="url(#p7)" stroke="#333" stroke-width="1.4"/>
<text transform="translate(559.8,788.85) scale(1.1063,1)" x="-0.74" y="0" font-size="14.767" fill="#1a1a1a">74.0 MBq/kg (F)</text>
<rect x="521.6" y="804.9" width="24" height="7.4" fill="url(#p8)" stroke="#333" stroke-width="1.4"/>
<text transform="translate(559.8,813.95) scale(1.1079,1)" x="-0.74" y="0" font-size="14.767" fill="#1a1a1a">74.0 MBq/kg (M)</text>
</svg>
</body></html>
